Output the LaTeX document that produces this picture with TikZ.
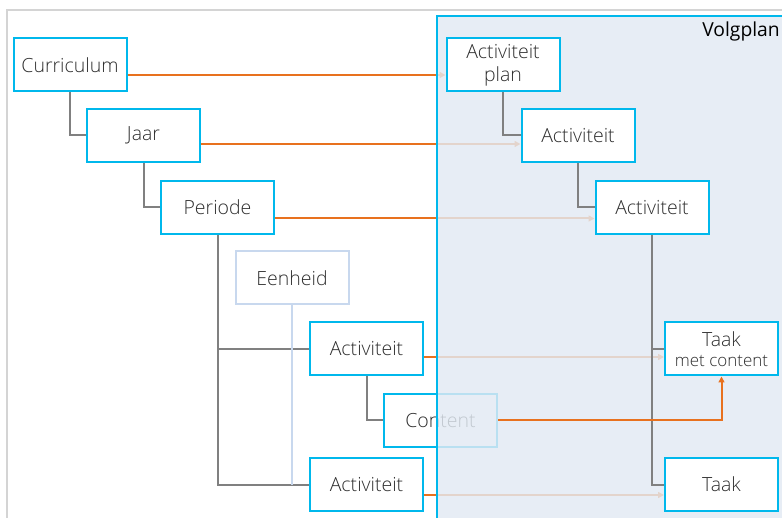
\documentclass[tikz,border=0pt]{standalone}
\usepackage{fontspec}
\setmainfont{Open Sans Light}
\newfontfamily\regfont{Open Sans}
\usetikzlibrary{arrows.meta}
\definecolor{cyanb}{HTML}{00B8EC}
\definecolor{orng}{HTML}{E8711E}
\definecolor{grayl}{HTML}{808080}
\definecolor{txt}{HTML}{2E2E2E}
\definecolor{vbg}{HTML}{E2EAF3}
\definecolor{faintb}{HTML}{C8D8EE}
\definecolor{frame}{HTML}{D4D4D4}
\tikzset{
  box/.style={draw=cyanb, line width=2pt, fill=white, minimum width=113pt, minimum height=53pt,
    inner sep=0pt, align=center, font=\fontsize{19.5}{23}\selectfont, text=txt},
  fbox/.style={box, draw=faintb},
  tree/.style={draw=grayl, line width=2pt},
  ftree/.style={draw=faintb, line width=2pt},
  link/.style={draw=orng, line width=2pt, -{Triangle[length=6pt,width=6pt]}},
}
\begin{document}
\begin{tikzpicture}[x=1pt,y=-1pt]
\clip (0,0) rectangle (782,518);
\fill[white] (0,0) rectangle (782,518);
\draw[frame, line width=1.5pt] (7,10) rectangle (820,560);
% left nodes
\node[box] (cur) at (70,65) {Curriculum};
\node[box] (jaar) at (143.5,135.5) {Jaar};
\node[box] (per) at (217.5,207.5) {Periode};
\node[fbox] (een) at (292,278) {Eenheid};
\node[box] (a4) at (366.5,349) {Activiteit};
\node[box] (con) at (440.5,420.5) {Content};
\node[box] (a5) at (366.5,484.5) {Activiteit};
% right node centres
\path (503,65) coordinate (apc) (578,135.5) coordinate (a2c) (652,207.5) coordinate (a3c)
      (721.5,349) coordinate (tmc) (721.5,484.5) coordinate (tc);
% orange arrows (faded by overlay)
\draw[link] ([yshift=-10pt]cur.east) -- ([xshift=-57.5pt,yshift=-10pt]apc);
\draw[link] ([yshift=-8.5pt]jaar.east) -- ([xshift=-57.5pt,yshift=-8.5pt]a2c);
\draw[link] ([yshift=-11pt]per.east) -- ([xshift=-57.5pt,yshift=-11pt]a3c);
\draw[link] ([yshift=-8pt]a4.east) -- ([xshift=-57.5pt,yshift=-8pt]tmc);
\draw[link] ([yshift=-10.5pt]a5.east) -- ([xshift=-57.5pt,yshift=-10.5pt]tc);
% Volgplan overlay
\fill[vbg, opacity=0.82] (437,16) rectangle (820,560);
\draw[cyanb, line width=2pt] (437,16) rectangle (820,560);
\node[anchor=north east, font=\regfont\fontsize{19.3}{23}\selectfont, text=black, inner sep=0pt] (vp) at (780,22) {Volgplan};
% left tree lines
\draw[tree] (cur.south) |- (jaar.west);
\draw[tree] (jaar.south) |- (per.west);
\draw[tree] (per.south) |- (a4.west);
\draw[tree] (per.south) |- (a5.west);
\draw[tree] (a4.south) |- (con.west);
\draw[ftree] (een.south) -- (een.south |- a5.west);
% right nodes
\node[box] (ap) at (apc) {Activiteit\\plan};
\node[box] (a2) at (a2c) {Activiteit};
\node[box] (a3) at (a3c) {Activiteit};
\node[box] (taakmc) at (tmc) {Taak\\[-3pt]{\fontsize{17}{18}\selectfont met content}};
\node[box] (taak) at (tc) {Taak};
% right tree
\draw[tree] (ap.south) |- (a2.west);
\draw[tree] (a2.south) |- (a3.west);
\draw[tree] (a3.south) |- (taakmc.west);
\draw[tree] (a3.south) |- (taak.west);
% content arrow
\draw[link] (con.east) -| (taakmc.south);
\end{tikzpicture}
\end{document}
